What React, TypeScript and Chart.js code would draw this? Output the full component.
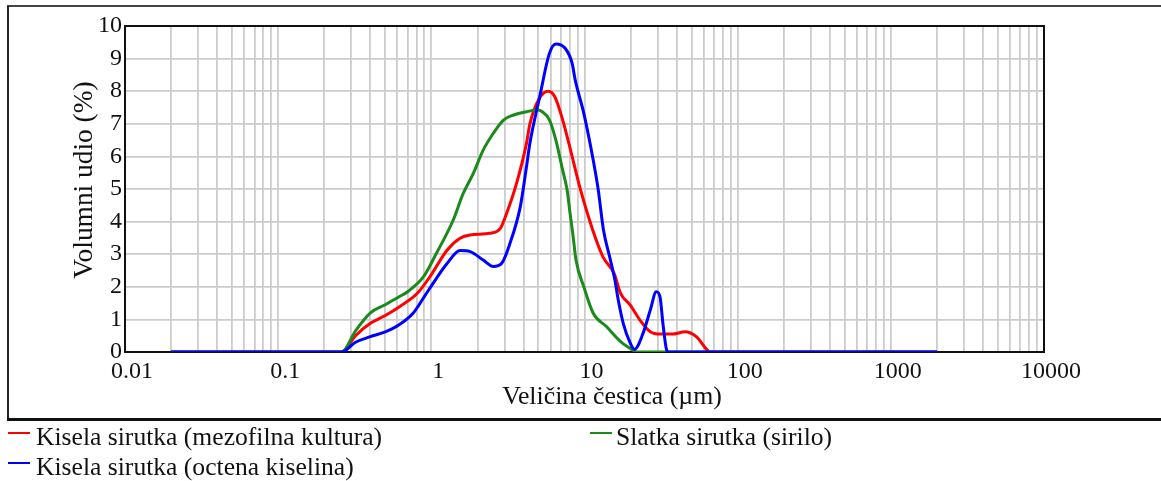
import { useEffect, useRef } from "react";
import { Chart, registerables } from "chart.js";

Chart.register(...registerables);

// ---------- data ----------
const seriesLabels = [
  "Kisela sirutka (mezofilna kultura)",
  "Slatka sirutka (sirilo)",
  "Kisela sirutka (octena kiselina)",
];
const seriesColors = ["#ff0000", "#1a8a1a", "#0000ff"];

const xTickLabels = ["0.01", "0.1", "1", "10", "100", "1000", "10000"];
const yTickLabels = ["0", "1", "2", "3", "4", "5", "6", "7", "8", "9", "10"];
const xTitle = "Veličina čestica (µm)";
const yTitle = "Volumni udio (%)";

const redSizes = [0.02, 0.26, 0.32, 0.4, 0.5, 0.62, 0.81, 0.98, 1.27, 1.54, 1.79, 2.41, 2.82, 3.1, 3.6, 4.18, 4.4, 5.1, 5.8, 6.4, 7.2, 8.3, 9.3, 11.3, 13.2, 15.6, 17.2, 19.9, 23, 26.9, 31.1, 37.5, 45.3, 53.7, 62.7, 66, 2000];
const redValues = [0, 0, 0.5, 0.88, 1.12, 1.39, 1.8, 2.31, 3.13, 3.49, 3.59, 3.64, 3.79, 4.25, 5.17, 6.4, 7.0, 7.8, 8.0, 7.83, 7.12, 6.0, 5.07, 3.75, 2.92, 2.41, 1.8, 1.44, 0.98, 0.62, 0.55, 0.55, 0.62, 0.47, 0.08, 0, 0];

const greenSizes = [0.02, 0.26, 0.32, 0.4, 0.5, 0.62, 0.7, 0.89, 1.08, 1.39, 1.61, 1.88, 2.18, 2.54, 2.97, 3.45, 4.18, 4.9, 5.3, 5.9, 6.5, 7.2, 7.7, 8.0, 8.4, 8.8, 9.9, 11.4, 13.9, 17.2, 20.9, 22, 2000];
const greenValues = [0, 0, 0.65, 1.2, 1.45, 1.7, 1.85, 2.31, 3.03, 4.05, 4.85, 5.48, 6.19, 6.71, 7.12, 7.27, 7.37, 7.42, 7.37, 7.12, 6.5, 5.58, 4.97, 4.35, 3.6, 2.82, 2.0, 1.19, 0.78, 0.32, 0.05, 0, 0];

const blueSizes = [0.02, 0.26, 0.32, 0.4, 0.5, 0.59, 0.76, 0.9, 1.08, 1.27, 1.54, 1.79, 2.18, 2.54, 2.88, 3.26, 3.81, 4.18, 4.4, 5.1, 5.9, 6.5, 7.5, 8.3, 8.7, 9.9, 11.5, 12.3, 13.3, 14.6, 15.8, 16.6, 17.9, 19.9, 21.2, 24.1, 26.9, 29.4, 31.1, 32.5, 34.2, 35, 2000];
const blueValues = [0, 0, 0.3, 0.47, 0.62, 0.78, 1.19, 1.7, 2.26, 2.72, 3.11, 3.08, 2.82, 2.62, 2.72, 3.33, 4.46, 5.68, 6.4, 7.83, 9.16, 9.45, 9.31, 8.86, 8.34, 7.32, 5.79, 4.97, 3.74, 2.92, 2.2, 1.6, 0.88, 0.27, 0.08, 0.57, 1.29, 1.85, 1.7, 0.88, 0.1, 0, 0];

const FONT = '"Liberation Serif", "Times New Roman", serif';

function pairs(xs: number[], ys: number[]) {
  return xs.map((x, i) => ({ x, y: ys[i] }));
}

export default function App() {
  const ref = useRef<HTMLCanvasElement>(null);

  useEffect(() => {
    const canvas = ref.current;
    if (!canvas) return;

    const logTicks: number[] = [];
    for (let e = -2; e <= 3; e++) {
      for (let m = 1; m <= 9; m++) logTicks.push(m * Math.pow(10, e));
    }
    logTicks.push(10000);

    const decorPlugin = {
      id: "decor",
      beforeDraw(chart: any) {
        const ctx = chart.ctx;
        ctx.save();
        ctx.fillStyle = "#ffffff";
        ctx.fillRect(0, 0, chart.width, chart.height);
        ctx.restore();
      },
      beforeDatasetsDraw(chart: any) {
        const ctx = chart.ctx;
        const a = chart.chartArea;
        ctx.save();
        ctx.strokeStyle = "#111111";
        ctx.lineWidth = 2;
        ctx.strokeRect(a.left, a.top, a.right - a.left, a.bottom - a.top);
        ctx.restore();
      },
      afterDraw(chart: any) {
        const ctx = chart.ctx;
        ctx.save();
        // outer frame
        ctx.strokeStyle = "#444444";
        ctx.lineWidth = 2;
        ctx.beginPath();
        ctx.moveTo(7, 6);
        ctx.lineTo(chart.width, 6);
        ctx.stroke();
        ctx.strokeStyle = "#222222";
        ctx.beginPath();
        ctx.moveTo(8, 6);
        ctx.lineTo(8, 419);
        ctx.stroke();
        ctx.strokeStyle = "#111111";
        ctx.lineWidth = 3;
        ctx.beginPath();
        ctx.moveTo(7, 419.5);
        ctx.lineTo(chart.width, 419.5);
        ctx.stroke();

        ctx.fillStyle = "#111111";
        // x title
        ctx.font = `25.8px ${FONT}`;
        ctx.textAlign = "center";
        ctx.textBaseline = "alphabetic";
        ctx.fillText(xTitle, 612, 404);
        // y title
        ctx.save();
        ctx.translate(92, 180);
        ctx.rotate(-Math.PI / 2);
        ctx.font = `27.4px ${FONT}`;
        ctx.textAlign = "center";
        ctx.fillText(yTitle, 0, 0);
        ctx.restore();

        // legend
        const items = [
          { i: 0, lx: 8, ly: 433, tx: 36, ty: 445 },
          { i: 1, lx: 590, ly: 433, tx: 616, ty: 445 },
          { i: 2, lx: 8, ly: 463, tx: 36, ty: 475 },
        ];
        ctx.font = `25.6px ${FONT}`;
        ctx.textAlign = "left";
        for (const it of items) {
          ctx.strokeStyle = seriesColors[it.i];
          ctx.lineWidth = 2;
          ctx.beginPath();
          ctx.moveTo(it.lx, it.ly);
          ctx.lineTo(it.lx + 22, it.ly);
          ctx.stroke();
          ctx.fillStyle = "#111111";
          ctx.fillText(seriesLabels[it.i], it.tx, it.ty);
        }
        ctx.restore();
      },
    };

    const chart = new Chart(canvas, {
      type: "line",
      data: {
        datasets: [
          { label: seriesLabels[0], data: pairs(redSizes, redValues), borderColor: seriesColors[0], order: 3 },
          { label: seriesLabels[1], data: pairs(greenSizes, greenValues), borderColor: seriesColors[1], order: 2 },
          { label: seriesLabels[2], data: pairs(blueSizes, blueValues), borderColor: seriesColors[2], order: 1 },
        ].map((d) => ({
          ...d,
          borderWidth: 3,
          pointRadius: 0,
          fill: false,
          cubicInterpolationMode: "monotone" as const,
        })),
      },
      options: {
        responsive: false,
        animation: false,
        layout: { padding: { left: 0, top: 26, right: 117, bottom: 0 } },
        plugins: {
          legend: { display: false },
          tooltip: { enabled: false },
          title: { display: false },
        },
        scales: {
          x: {
            type: "logarithmic",
            min: 0.01,
            max: 10000,
            afterBuildTicks(scale: any) {
              scale.ticks = logTicks.map((v) => ({ value: v }));
            },
            afterFit(scale: any) {
              scale.height = 129;
            },
            grid: { color: "#cccccc", lineWidth: 1.8, drawTicks: false },
            border: { display: false },
            ticks: {
              autoSkip: false,
              maxRotation: 0,
              padding: 5,
              labelOffset: 7,
              color: "#111111",
              font: { family: FONT, size: 24 },
              callback: (value: any) => {
                const lg = Math.log10(Number(value));
                if (Math.abs(lg - Math.round(lg)) < 1e-9) {
                  return xTickLabels[Math.round(lg) + 2] ?? "";
                }
                return "";
              },
            },
          },
          y: {
            type: "linear",
            min: 0,
            max: 10,
            afterFit(scale: any) {
              scale.width = 125;
            },
            grid: { color: "#cccccc", lineWidth: 1.8, drawTicks: false },
            border: { display: false },
            ticks: {
              stepSize: 1,
              padding: 3,
              color: "#111111",
              font: { family: FONT, size: 24 },
              callback: (value: any) => yTickLabels[Number(value)] ?? "",
            },
          },
        },
      },
      plugins: [decorPlugin],
    });

    return () => chart.destroy();
  }, []);

  return (
    <div style={{ position: "fixed", left: 0, top: 0, width: 1161, height: 481, background: "#fff" }}>
      <canvas ref={ref} width={1161} height={481} style={{ display: "block", width: 1161, height: 481 }} />
    </div>
  );
}
